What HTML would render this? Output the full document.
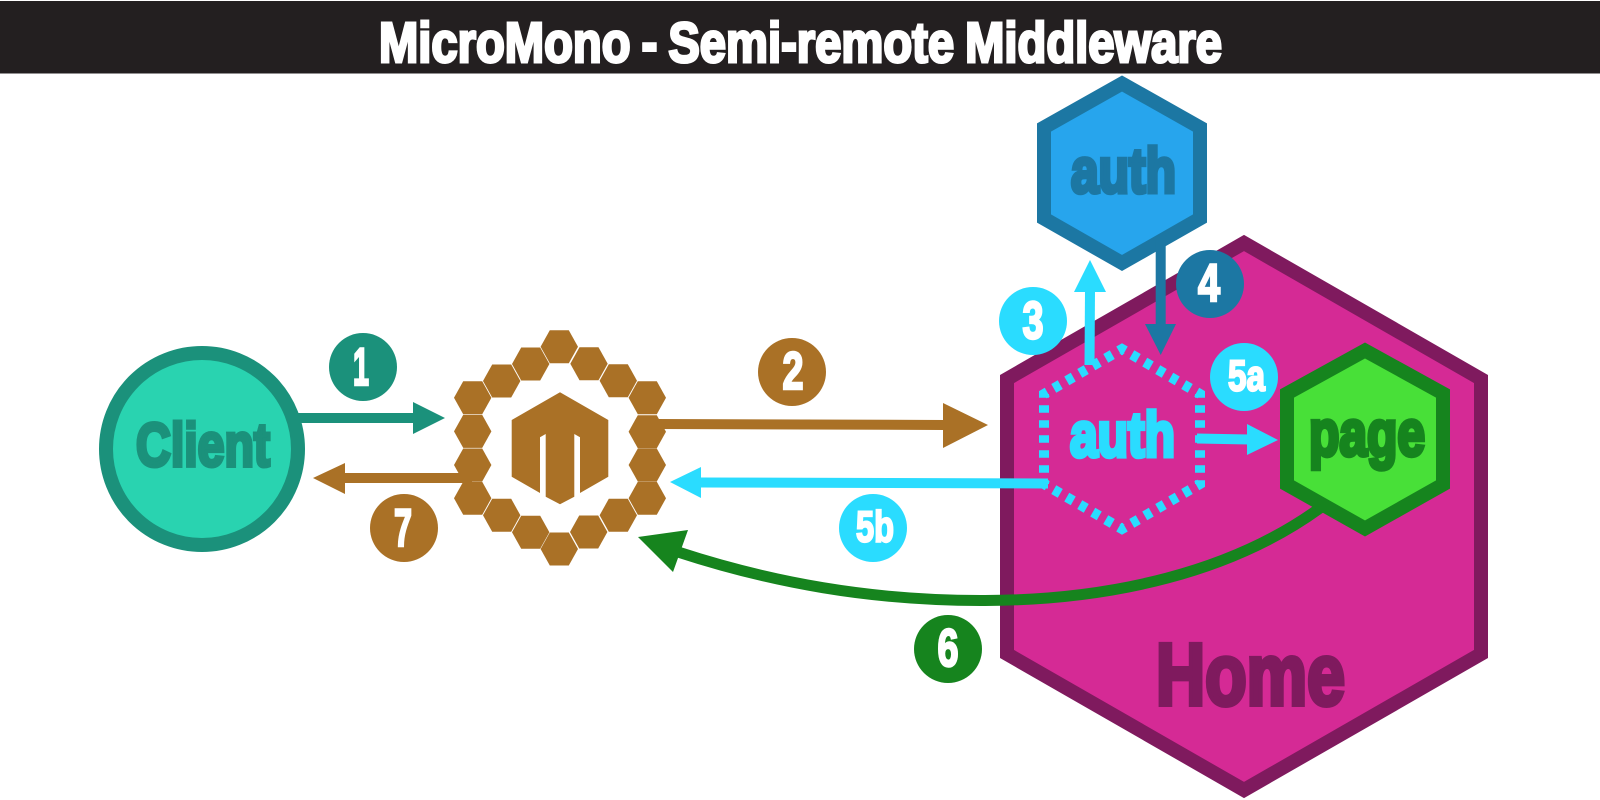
<!DOCTYPE html>
<html lang="en">
<head>
<meta charset="utf-8">
<title>MicroMono - Semi-remote Middleware</title>
<style>
html,body{margin:0;padding:0;background:#fff}
svg{display:block}
text{font-family:"Liberation Sans",sans-serif;font-weight:700;stroke-linejoin:miter}
</style>
</head>
<body>
<svg xmlns="http://www.w3.org/2000/svg" width="1600" height="800" viewBox="0 0 1600 800">
<rect width="1600" height="800" fill="#fff"/>
<rect x="0" y="1" width="1600" height="72.500" fill="#231f20"/>
<text x="379" y="62" font-size="57" fill="#fff" stroke="#fff" stroke-width="3" word-spacing="-2.500" textLength="843" lengthAdjust="spacingAndGlyphs">MicroMono - Semi-remote Middleware</text>

<!-- Home -->
<polygon points="1244,243 1481,379 1481,654 1244,790 1007,654 1007,379" fill="#d52a95" stroke="#7f1a5e" stroke-width="14"/>
<text x="1156" y="704.500" font-size="87" fill="#7f1a5e" stroke="#7f1a5e" stroke-width="5" textLength="189" lengthAdjust="spacingAndGlyphs">Home</text>

<!-- Client -->
<circle cx="202" cy="449" r="96" fill="#29d3b0" stroke="#1b917b" stroke-width="14"/>
<text x="136" y="466" font-size="61" fill="#1b917b" stroke="#1b917b" stroke-width="4" textLength="134" lengthAdjust="spacingAndGlyphs">Client</text>

<!-- Hex ring -->
<g fill="#aa7126">
<polygon points="549.800,330.200 568.800,330.200 578,346.700 568.800,363.200 549.800,363.200 540.600,346.700"/>
<polygon points="521.200,347.500 540.200,347.500 549.400,364 540.200,380.500 521.200,380.500 512,364"/>
<polygon points="492.200,364.500 511.200,364.500 520.400,381 511.200,397.500 492.200,397.500 483,381"/>
<polygon points="463.200,381.200 482.200,381.200 491.400,397.700 482.200,414.200 463.200,414.200 454,397.700"/>
<polygon points="463.200,414.900 482.200,414.900 491.400,431.400 482.200,447.900 463.200,447.900 454,431.400"/>
<polygon points="463.200,448.500 482.200,448.500 491.400,465 482.200,481.500 463.200,481.500 454,465"/>
<polygon points="463.200,481.800 482.200,481.800 491.400,498.300 482.200,514.800 463.200,514.800 454,498.300"/>
<polygon points="492.200,498.800 511.200,498.800 520.400,515.300 511.200,531.800 492.200,531.800 483,515.300"/>
<polygon points="521.200,515.800 540.200,515.800 549.400,532.300 540.200,548.800 521.200,548.800 512,532.300"/>
<polygon points="549.800,532.500 568.800,532.500 578,549 568.800,565.500 549.800,565.500 540.600,549"/>
<polygon points="579.200,515.500 598.200,515.500 607.400,532 598.200,548.500 579.200,548.500 570,532"/>
<polygon points="608.800,498.800 627.800,498.800 637,515.300 627.800,531.800 608.800,531.800 599.600,515.300"/>
<polygon points="637.800,481.800 656.800,481.800 666,498.300 656.800,514.800 637.800,514.800 628.600,498.300"/>
<polygon points="637.800,448.500 656.800,448.500 666,465 656.800,481.500 637.800,481.500 628.600,465"/>
<polygon points="637.800,415.200 656.800,415.200 666,431.700 656.800,448.200 637.800,448.200 628.600,431.700"/>
<polygon points="637.800,381.200 656.800,381.200 666,397.700 656.800,414.200 637.800,414.200 628.600,397.700"/>
<polygon points="608.800,364.200 627.800,364.200 637,380.700 627.800,397.200 608.800,397.200 599.600,380.700"/>
<polygon points="579.500,347.200 598.500,347.200 607.700,363.700 598.500,380.200 579.500,380.200 570.300,363.700"/>
<polygon points="511.700,420 560,392.300 608.300,420 608.300,476.700 580,493 580,437.300 574.300,434 574.300,496.700 560,504.300 545.700,496.700 545.700,434 540,437.300 540,493 511.700,476.700"/>
</g>

<!-- Arrow 1 -->
<rect x="295" y="413" width="120" height="10" fill="#1b917b"/>
<polygon points="413,402 445,418 413,434" fill="#1b917b"/>
<!-- Arrow 7 -->
<rect x="343" y="473" width="129" height="10" fill="#aa7126"/>
<polygon points="313,478 345,463 345,494" fill="#aa7126"/>
<!-- Arrow 2 -->
<polygon points="657,419 945,420 945,430 657,429" fill="#aa7126"/>
<polygon points="943,403 988,425 943,448" fill="#aa7126"/>
<!-- Arrow 5b -->
<polygon points="699,477.500 1048,478.500 1048,488.500 699,487.500" fill="#2adcff"/>
<polygon points="670,482 701,467 701,498" fill="#2adcff"/>
<!-- Arrow 6 -->
<path d="M1320,508 C1232,572 1112,600 985,600.500 C870,601 770,582 678,552" fill="none" stroke="#16841e" stroke-width="11"/>
<polygon points="638,537 688,530 673,572" fill="#16841e"/>

<!-- Top auth -->
<polygon points="1122,83.500 1200,127.500 1200,218.500 1122,263 1044,218.500 1044,127.500" fill="#27a5ed" stroke="#1c77a3" stroke-width="14"/>
<text x="1071" y="192.500" font-size="63" fill="#1c77a3" stroke="#1c77a3" stroke-width="4.500" textLength="105" lengthAdjust="spacingAndGlyphs">auth</text>

<!-- Arrow 4 -->
<rect x="1155.700" y="240" width="10" height="86" fill="#1c77a3"/>
<polygon points="1145,324 1176,324 1160.700,355" fill="#1c77a3"/>
<!-- Arrow 3 -->
<polygon points="1084.500,365 1085,290 1095,290 1094.500,365" fill="#2adcff"/>
<polygon points="1090,260 1106,292 1074,292" fill="#2adcff"/>

<!-- Dotted auth -->
<path d="M1122,349 L1200,394 L1200,484 L1122,529 L1044,484 L1044,394 Z" fill="none" stroke="#2adcff" stroke-width="10" stroke-dasharray="7.500 7.500" stroke-dashoffset="3.750" pathLength="540"/>
<text x="1070" y="456.500" font-size="63" fill="#2adcff" stroke="#2adcff" stroke-width="4.500" textLength="105" lengthAdjust="spacingAndGlyphs">auth</text>

<!-- Arrow 5a -->
<polygon points="1197,433.500 1249,434.500 1249,444.500 1197,443.500" fill="#2adcff"/>
<polygon points="1247,424 1278,440 1247,455" fill="#2adcff"/>

<!-- Page -->
<polygon points="1365,350.500 1443,393.500 1443,484.500 1365,528.500 1287,484.500 1287,393.500" fill="#48e038" stroke="#16841e" stroke-width="14"/>
<text x="1309" y="455.500" font-size="65" fill="#16841e" stroke="#16841e" stroke-width="4.500" textLength="116" lengthAdjust="spacingAndGlyphs">page</text>

<!-- Badges -->
<circle cx="363" cy="367" r="34" fill="#1b917b"/>
<text x="353" y="385" font-size="53" fill="#fff" stroke="#fff" stroke-width="2.500" textLength="16" lengthAdjust="spacingAndGlyphs">1</text>
<circle cx="792" cy="372" r="34" fill="#aa7126"/>
<text x="782.500" y="389" font-size="53" fill="#fff" stroke="#fff" stroke-width="2.500" textLength="21" lengthAdjust="spacingAndGlyphs">2</text>
<circle cx="1033" cy="321" r="34" fill="#2adcff"/>
<text x="1022.500" y="338.500" font-size="53" fill="#fff" stroke="#fff" stroke-width="2.500" textLength="21" lengthAdjust="spacingAndGlyphs">3</text>
<circle cx="1210" cy="284" r="34" fill="#1c77a3"/>
<text x="1198" y="301" font-size="53" fill="#fff" stroke="#fff" stroke-width="2.500" textLength="22" lengthAdjust="spacingAndGlyphs">4</text>
<circle cx="1244" cy="377" r="34" fill="#2adcff"/>
<text x="1228" y="390.500" font-size="44" fill="#fff" stroke="#fff" stroke-width="2.200" textLength="37" lengthAdjust="spacingAndGlyphs">5a</text>
<circle cx="873" cy="528" r="34" fill="#2adcff"/>
<text x="856" y="541.500" font-size="44" fill="#fff" stroke="#fff" stroke-width="2.200" textLength="38" lengthAdjust="spacingAndGlyphs">5b</text>
<circle cx="948" cy="649" r="34" fill="#16841e"/>
<text x="937.500" y="666" font-size="53" fill="#fff" stroke="#fff" stroke-width="2.500" textLength="21" lengthAdjust="spacingAndGlyphs">6</text>
<circle cx="404" cy="528" r="34" fill="#aa7126"/>
<text x="394" y="546" font-size="53" fill="#fff" stroke="#fff" stroke-width="2.500" textLength="18" lengthAdjust="spacingAndGlyphs">7</text>
</svg>
</body>
</html>
